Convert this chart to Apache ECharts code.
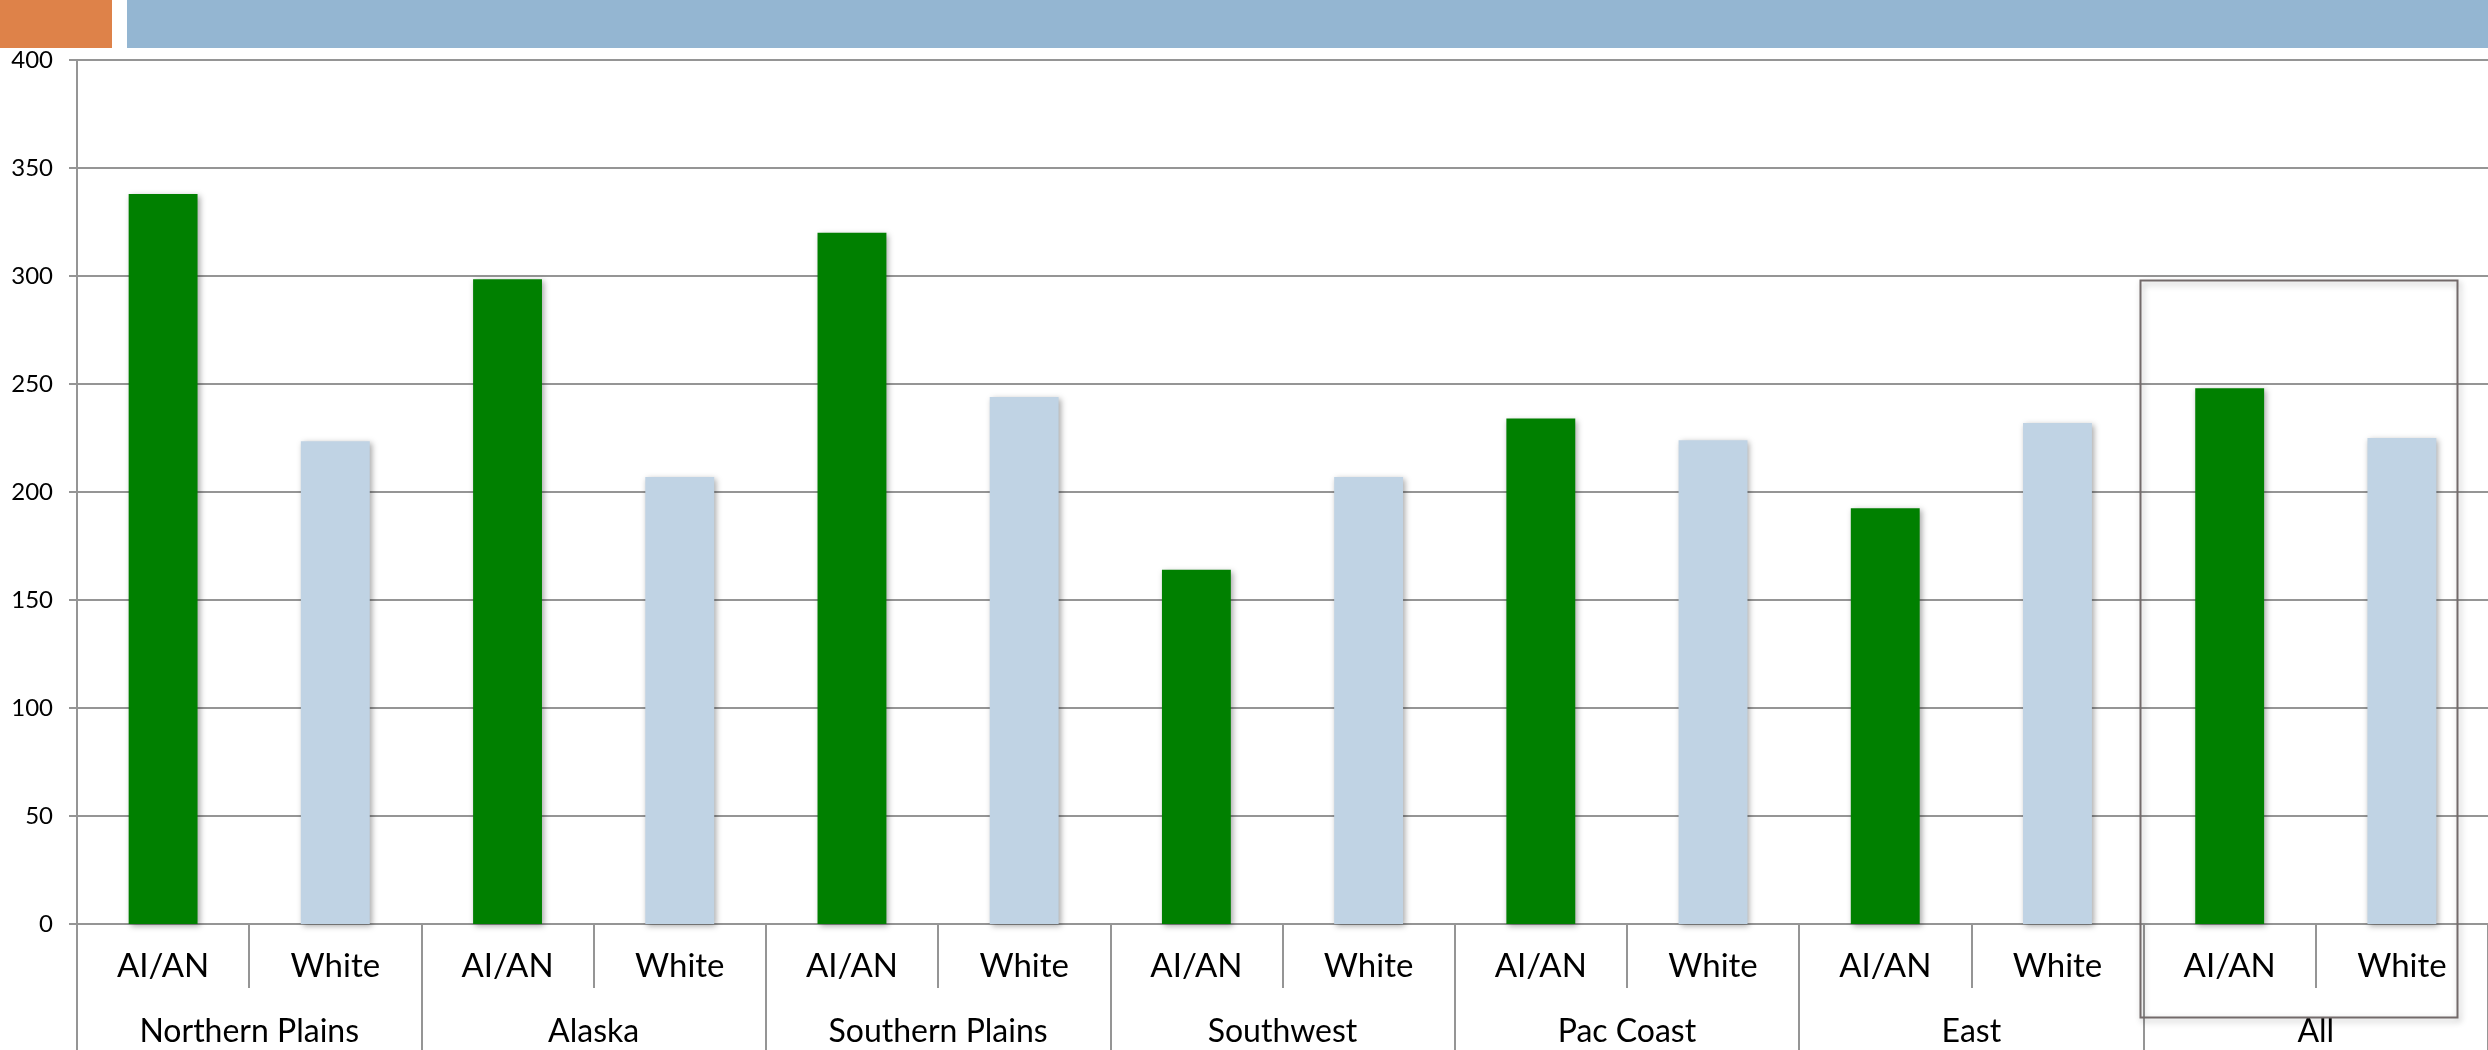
<!DOCTYPE html>
<html>
<head>
<meta charset="utf-8">
<script src="https://cdn.jsdelivr.net/npm/echarts@6/dist/echarts.min.js"></script>
<style>
  html, body { margin: 0; padding: 0; background: #fff; }
  #chart { width: 2488px; height: 1050px; }
</style>
</head>
<body>
<div id="chart"></div>
<script>
// data
var regions = ['Northern Plains', 'Alaska', 'Southern Plains', 'Southwest', 'Pac Coast', 'East', 'All'];
var groups = ['AI/AN', 'White'];
var aianValues = [338, 298.5, 320, 164, 234, 192.5, 248];
var whiteValues = [223.5, 207, 244, 207, 224, 232, 225];
var yTicks = [0, 50, 100, 150, 200, 250, 300, 350, 400];

// build the 14 sub categories and two interleaved series
var subCats = [];
var aianData = [];
var whiteData = [];
regions.forEach(function (r, i) {
    subCats.push(groups[0], groups[1]);
    aianData.push(aianValues[i], null);
    whiteData.push(null, whiteValues[i]);
});

var chart = echarts.init(document.getElementById('chart'));

var gridColor = '#959595';
var font = 'Lato, "Open Sans", sans-serif';
var barShadow = {
    shadowBlur: 6,
    shadowColor: 'rgba(0,0,0,0.35)',
    shadowOffsetX: 2,
    shadowOffsetY: 2
};

var option = {
    animation: false,
    backgroundColor: '#fff',
    textStyle: { fontFamily: font },
    grid: { left: 77, right: -4, top: 60, bottom: 126 },
    graphic: [
        // header strips
        { type: 'rect', left: 0, top: 0, shape: { width: 112, height: 48 }, style: { fill: '#DE8249' } },
        { type: 'rect', left: 127, top: 0, shape: { width: 2361, height: 48 }, style: { fill: '#94B6D2' } },
        // box around the "All" group
        {
            type: 'rect', left: 2138, top: 278, z: 10,
            shape: { width: 317, height: 737 },
            style: {
                fill: 'none', stroke: '#736a6a', lineWidth: 2,
                shadowBlur: 6, shadowColor: 'rgba(0,0,0,0.3)', shadowOffsetX: 2, shadowOffsetY: 3
            }
        }
    ],
    xAxis: [
        {
            type: 'category',
            data: subCats,
            position: 'bottom',
            axisLine: { show: true, lineStyle: { color: gridColor, width: 2 } },
            axisTick: { show: true, interval: 0, length: 64, lineStyle: { color: gridColor, width: 2 } },
            axisLabel: { interval: 0, margin: 26, color: '#000', fontSize: 33, fontFamily: font },
            splitLine: { show: false }
        },
        {
            type: 'category',
            data: regions,
            position: 'bottom',
            axisLine: { show: false },
            axisTick: { show: true, interval: 0, length: 130, lineStyle: { color: gridColor, width: 2 } },
            axisLabel: { interval: 0, margin: 92, color: '#000', fontSize: 32, fontFamily: font },
            splitLine: { show: false }
        }
    ],
    yAxis: {
        type: 'value',
        min: yTicks[0],
        max: yTicks[yTicks.length - 1],
        interval: 50,
        axisLine: { show: true, lineStyle: { color: gridColor, width: 2 } },
        axisTick: { show: true, length: 8, lineStyle: { color: gridColor, width: 2 } },
        axisLabel: { margin: 24, color: '#000', fontSize: 24, fontFamily: font },
        splitLine: { show: true, lineStyle: { color: gridColor, width: 2 } }
    },
    series: [
        {
            name: 'AI/AN',
            type: 'bar',
            data: aianData,
            barWidth: '40%',
            barGap: '-100%',
            itemStyle: Object.assign({ color: '#008000' }, barShadow)
        },
        {
            name: 'White',
            type: 'bar',
            data: whiteData,
            barWidth: '40%',
            barGap: '-100%',
            itemStyle: Object.assign({ color: '#C0D3E4' }, barShadow)
        }
    ]
};

chart.setOption(option);
</script>
</body>
</html>
